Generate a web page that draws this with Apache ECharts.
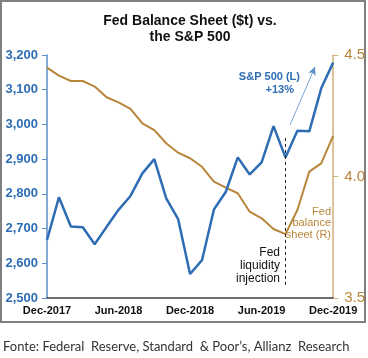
<!DOCTYPE html>
<html><head><meta charset="utf-8">
<script src="https://cdn.jsdelivr.net/npm/echarts@6/dist/echarts.min.js"></script>
<style>html,body{margin:0;padding:0;background:#fff}#c{width:368px;height:358px}</style>
</head><body><div id="c"></div>
<script>
var months = ['Dec-2017','Jan-2018','Feb-2018','Mar-2018','Apr-2018','May-2018','Jun-2018','Jul-2018','Aug-2018','Sep-2018','Oct-2018','Nov-2018','Dec-2018','Jan-2019','Feb-2019','Mar-2019','Apr-2019','May-2019','Jun-2019','Jul-2019','Aug-2019','Sep-2019','Oct-2019','Nov-2019','Dec-2019'];
var sp500 = [2667, 2790, 2706, 2704, 2655, 2705, 2754, 2794, 2859, 2900, 2787, 2727, 2569, 2609, 2755, 2806, 2905, 2856, 2891, 2995, 2905, 2982, 2980, 3104, 3178];
var fedBS = [4.448, 4.415, 4.393, 4.393, 4.370, 4.326, 4.305, 4.278, 4.219, 4.191, 4.137, 4.098, 4.075, 4.040, 3.979, 3.954, 3.931, 3.855, 3.828, 3.784, 3.763, 3.862, 4.020, 4.054, 4.167];
var leftTicks = {min: 2500, max: 3200, interval: 100};
var rightTicks = {min: 3.5, max: 4.5, interval: 0.5};
var injectionIndex = 20;

var BLUE = '#2E6DB4', BROWN = '#B8863B', TAN = '#D3B07C';
var chart = echarts.init(document.getElementById('c'), null, {renderer: 'canvas'});
chart.setOption({
  animation: false,
  backgroundColor: '#fff',
  title: {
    text: 'Fed Balance Sheet ($t) vs.\nthe S&P 500',
    left: 185, top: 8, textAlign: 'center',
    textStyle: {fontFamily: 'Liberation Sans, Arial', fontWeight: 'bold', fontSize: 14, lineHeight: 16, color: '#111'}
  },
  grid: {left: 47, right: 34, top: 55, bottom: 60},
  xAxis: {
    type: 'category', data: months, boundaryGap: false,
    axisLine: {lineStyle: {color: '#404040', width: 1.5}},
    axisTick: {show: false},
    axisLabel: {interval: 5, margin: 7, fontFamily: 'Liberation Sans, Arial', fontWeight: 'bold', fontSize: 11, color: '#111'},
    splitLine: {show: false}
  },
  yAxis: [{
    type: 'value', position: 'left', min: leftTicks.min, max: leftTicks.max, interval: leftTicks.interval,
    axisLine: {show: true, lineStyle: {color: '#5B8FC9', width: 1.5}},
    axisTick: {show: true, length: 5, lineStyle: {color: '#5B8FC9'}},
    axisLabel: {margin: 9, fontFamily: 'Liberation Sans, Arial', fontWeight: 'bold', fontSize: 13, color: BLUE,
      formatter: function (v) { return v.toLocaleString('en-US'); }},
    splitLine: {show: false}
  }, {
    type: 'value', position: 'right', min: rightTicks.min, max: rightTicks.max, interval: rightTicks.interval,
    axisLine: {show: true, lineStyle: {color: TAN, width: 1.5}},
    axisTick: {show: true, length: 5, lineStyle: {color: TAN}},
    axisLabel: {margin: 11, fontFamily: 'Liberation Sans, Arial', fontSize: 15, color: BROWN,
      formatter: function (v) { return v.toFixed(1); }},
    splitLine: {show: false}
  }],
  series: [{
    name: 'Fed balance sheet', type: 'line', yAxisIndex: 1, data: fedBS,
    showSymbol: false, symbol: 'none',
    lineStyle: {color: BROWN, width: 2}, z: 2
  }, {
    name: 'S&P 500', type: 'line', yAxisIndex: 0, data: sp500,
    showSymbol: false, symbol: 'none',
    lineStyle: {color: BLUE, width: 2.5}, z: 3,
    markLine: {
      silent: true, animation: false,
      data: [
        [{coord: [injectionIndex, 2961], symbol: 'none', lineStyle: {color: '#222', type: [3, 3], width: 1}},
         {coord: [injectionIndex, 2532], symbol: 'none'}],
        [{x: 290, y: 125, symbol: 'none', lineStyle: {color: '#5B8FC9', type: 'solid', width: 0.8}},
         {x: 315, y: 67, symbol: 'arrow', symbolSize: [6, 8]}]
      ],
      label: {show: false}
    }
  }],
  graphic: [
    {type: 'rect', shape: {x: 1, y: 1, width: 364, height: 321}, style: {fill: 'none', stroke: '#7F7F7F', lineWidth: 2}, z: 0, silent: true},
    {type: 'text', x: 300, y: 77, style: {text: 'S&P 500 (L)', align: 'right', verticalAlign: 'middle', fill: BLUE, font: 'bold 11px "Liberation Sans", Arial'}},
    {type: 'text', x: 294, y: 90, style: {text: '+13%', align: 'right', verticalAlign: 'middle', fill: BLUE, font: 'bold 11px "Liberation Sans", Arial'}},
    {type: 'text', x: 280, y: 253, style: {text: 'Fed', align: 'right', verticalAlign: 'middle', fill: '#111', font: '12px "Liberation Sans", Arial'}},
    {type: 'text', x: 280, y: 266, style: {text: 'liquidity', align: 'right', verticalAlign: 'middle', fill: '#111', font: '12px "Liberation Sans", Arial'}},
    {type: 'text', x: 280, y: 279, style: {text: 'injection', align: 'right', verticalAlign: 'middle', fill: '#111', font: '12px "Liberation Sans", Arial'}},
    {type: 'text', x: 331, y: 212, style: {text: 'Fed', align: 'right', verticalAlign: 'middle', fill: BROWN, font: '11px "Liberation Sans", Arial'}},
    {type: 'text', x: 331, y: 223, style: {text: 'balance', align: 'right', verticalAlign: 'middle', fill: BROWN, font: '11px "Liberation Sans", Arial'}},
    {type: 'text', x: 331, y: 235, style: {text: 'sheet (R)', align: 'right', verticalAlign: 'middle', fill: BROWN, font: '11px "Liberation Sans", Arial'}},
    {type: 'text', x: 3, y: 347, style: {text: 'Fonte: Federal  Reserve, Standard  & Poor\u2019s, Allianz  Research', align: 'left', verticalAlign: 'middle', fill: '#333', font: '13px Lato, "Open Sans", sans-serif'}}
  ]
});
</script></body></html>
